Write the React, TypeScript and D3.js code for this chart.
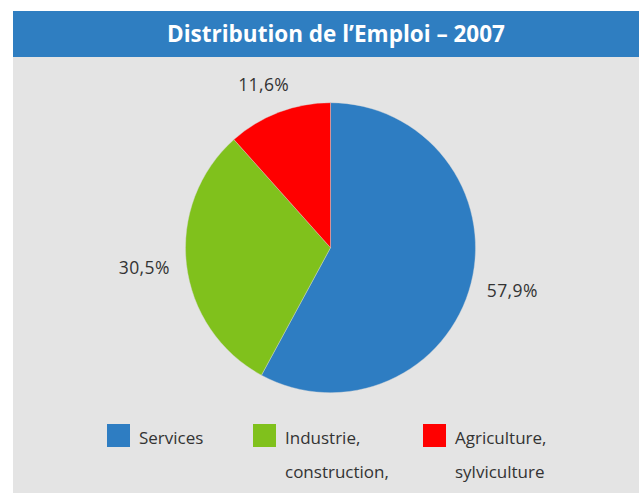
import React, { useEffect, useRef } from 'react';
import * as d3 from 'd3';

const title = 'Distribution de l\u2019Emploi \u2013 2007';
const categories = ['Services', 'Industrie, construction,', 'Agriculture, sylviculture'];
const values = [57.9, 30.5, 11.6];
const valueLabels = ['57,9%', '30,5%', '11,6%'];
const legendLines = [['Services'], ['Industrie,', 'construction,'], ['Agriculture,', 'sylviculture']];
const colors = ['#2E7DC2', '#80C11C', '#FF0000'];

const W = 639;
const H = 493;

const App = () => {
  const svgRef = useRef<SVGSVGElement | null>(null);

  useEffect(() => {
    if (!svgRef.current) return;
    const svg = d3.select(svgRef.current);
    svg.selectAll('*').remove();

    const font = '"Open Sans", "Noto Sans", sans-serif';

    // panel + title bar
    svg.append('rect').attr('x', 13).attr('y', 11).attr('width', W - 13).attr('height', H - 11).attr('fill', '#E4E4E4');
    svg.append('rect').attr('x', 13).attr('y', 11).attr('width', W - 13).attr('height', 46).attr('fill', '#2F7EC1');
    svg.append('text')
      .attr('x', 336).attr('y', 41.7)
      .attr('text-anchor', 'middle')
      .attr('font-family', font).attr('font-weight', 700).attr('font-size', 22.5)
      .attr('fill', '#fff')
      .text(title);

    const cx = 330.5, cy = 247.7, radius = 145;
    const pie = d3.pie<number>().sort(null).value(d => d);
    const arcs = pie(values);
    const arc = d3.arc<d3.PieArcDatum<number>>().innerRadius(0).outerRadius(radius);

    const g = svg.append('g').attr('transform', `translate(${cx},${cy})`);
    g.selectAll('path.slice')
      .data(arcs)
      .enter()
      .append('path')
      .attr('class', 'slice')
      .attr('d', arc)
      .attr('fill', (d, i) => colors[i])
      .attr('stroke', '#d8d8d8')
      .attr('stroke-width', 0.4);

    // value labels outside each slice
    const labelR = 162;
    arcs.forEach((d, i) => {
      const a = (d.startAngle + d.endAngle) / 2;
      const sx = Math.sin(a), sy = -Math.cos(a);
      const t = g.append('text')
        .attr('text-anchor', 'middle')
        .attr('font-family', font).attr('font-size', 17.5)
        .attr('letter-spacing', 0.4)
        .attr('fill', '#333')
        .text(valueLabels[i]);
      const bb = (t.node() as SVGTextElement).getBBox();
      const px = labelR * sx + sx * bb.width / 2;
      const py = labelR * sy + sy * bb.height / 2;
      t.attr('x', px).attr('y', py).attr('dy', '0.35em');
    });

    // legend
    const legendX = [107, 253, 423];
    const legend = svg.append('g');
    categories.forEach((c, i) => {
      legend.append('rect')
        .attr('x', legendX[i]).attr('y', 424)
        .attr('width', 23).attr('height', 23)
        .attr('fill', colors[i]);
      legendLines[i].forEach((line, j) => {
        legend.append('text')
          .attr('x', legendX[i] + 32).attr('y', 444.3 + j * 33.5)
          .attr('font-family', font).attr('font-size', 17)
          .attr('fill', '#333')
          .text(line);
      });
    });
  }, []);

  return (
    <svg ref={svgRef} width={W} height={H} style={{ position: 'absolute', left: 0, top: 0, display: 'block' }} />
  );
};

export default App;
